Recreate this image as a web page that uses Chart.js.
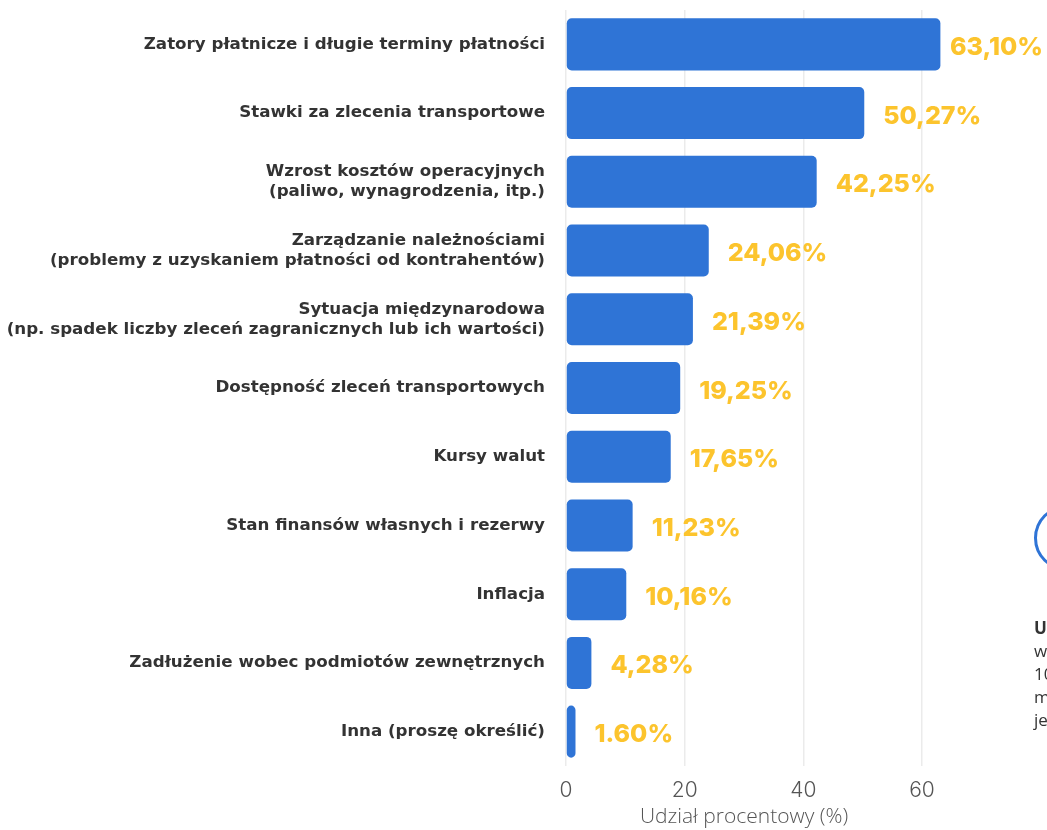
<!DOCTYPE html>
<html lang="pl">
<head>
<meta charset="utf-8">
<title>Udział procentowy</title>
<script src="https://cdn.jsdelivr.net/npm/chart.js@4.4.1/dist/chart.umd.min.js"></script>
<style>
  html, body { margin: 0; padding: 0; background: #fff; overflow: hidden; }
  #wrap { position: relative; width: 1047px; height: 830px; }
  #side { position: absolute; left: 1034px; top: 505px; width: 260px; font-family: "Open Sans", sans-serif; color: #333; }
  #side .ring { width: 60px; height: 60px; border: 3px solid #2F74D6; border-radius: 50%; }
  #side p { margin: 45px 0 0 0; font-size: 17px; line-height: 23px; }
</style>
</head>
<body>
<div id="wrap">
  <canvas id="myChart" width="1047" height="830"></canvas>
  <div id="side">
    <div class="ring"></div>
    <p><b>Uwaga:</b><br>wartości nie sumują się do<br>100%, ponieważ respondenci<br>mogli wybrać więcej niż<br>jedną odpowiedź.</p>
  </div>
</div>
<script>
const categories = [
  "Zatory płatnicze i długie terminy płatności",
  "Stawki za zlecenia transportowe",
  ["Wzrost kosztów operacyjnych", "(paliwo, wynagrodzenia, itp.)"],
  ["Zarządzanie należnościami", "(problemy z uzyskaniem płatności od kontrahentów)"],
  ["Sytuacja międzynarodowa", "(np. spadek liczby zleceń zagranicznych lub ich wartości)"],
  "Dostępność zleceń transportowych",
  "Kursy walut",
  "Stan finansów własnych i rezerwy",
  "Inflacja",
  "Zadłużenie wobec podmiotów zewnętrznych",
  "Inna (proszę określić)"
];
const shares = [63.10, 50.27, 42.25, 24.06, 21.39, 19.25, 17.65, 11.23, 10.16, 4.28, 1.60];
const shareLabels = ["63,10%", "50,27%", "42,25%", "24,06%", "21,39%", "19,25%", "17,65%", "11,23%", "10,16%", "4,28%", "1.60%"];
const xTicks = [0, 20, 40, 60];

const CAT_FONT = "'DejaVu Sans', 'Open Sans', sans-serif";
const LABEL_FONT = "'Open Sans', 'Noto Sans', sans-serif";
const NUM_FONT = "Inter, 'Noto Sans', sans-serif";

// percentage labels to the right of each bar
const valueLabels = {
  id: 'valueLabels',
  afterDatasetsDraw(chart) {
    const ctx = chart.ctx;
    const meta = chart.getDatasetMeta(0);
    ctx.save();
    ctx.font = "800 25px " + NUM_FONT;
    ctx.fillStyle = '#FCC42D';
    ctx.textBaseline = 'middle';
    ctx.textAlign = 'left';
    meta.data.forEach((bar, i) => {
      const txt = shareLabels[i];
      const w = ctx.measureText(txt).width;
      let x = bar.x + 19;
      if (x + w > chart.width - 4) x = chart.width - 4 - w;
      ctx.fillText(txt, x, bar.y + 3);
    });
    ctx.restore();
  }
};

const ctx = document.getElementById('myChart').getContext('2d');
new Chart(ctx, {
  type: 'bar',
  data: {
    labels: categories,
    datasets: [{
      data: shares,
      backgroundColor: '#2F74D6',
      borderRadius: 5,
      borderSkipped: false,
      barPercentage: 0.757,
      categoryPercentage: 1,
      clip: false
    }]
  },
  options: {
    indexAxis: 'y',
    responsive: false,
    animation: false,
    layout: { padding: { top: 10, right: 125, bottom: 0, left: 0 } },
    plugins: {
      legend: { display: false },
      tooltip: { enabled: false }
    },
    scales: {
      x: {
        min: 0,
        max: 60,
        afterBuildTicks: (scale) => { scale.ticks = xTicks.map(v => ({ value: v })); },
        afterFit: (scale) => { scale.height = 64; },
        grid: { color: '#ebebeb', lineWidth: 1.5, drawTicks: false },
        border: { display: false },
        ticks: { color: '#555', padding: 12, font: { family: NUM_FONT, size: 21, weight: '300' } },
        title: {
          display: true,
          text: 'Udział procentowy (%)',
          color: '#555',
          padding: { top: 0, bottom: 0 },
          font: { family: LABEL_FONT, size: 21, weight: '300' }
        }
      },
      y: {
        afterFit: (scale) => {
          scale.width = 566;
          scale.paddingTop = 0;
          scale.paddingBottom = 0;
        },
        grid: { display: false, drawTicks: false },
        border: { display: false },
        ticks: {
          color: '#333',
          padding: 21,
          font: { family: CAT_FONT, size: 16.7, weight: 'bold', lineHeight: 1.2 }
        }
      }
    }
  },
  plugins: [valueLabels]
});
</script>
</body>
</html>
